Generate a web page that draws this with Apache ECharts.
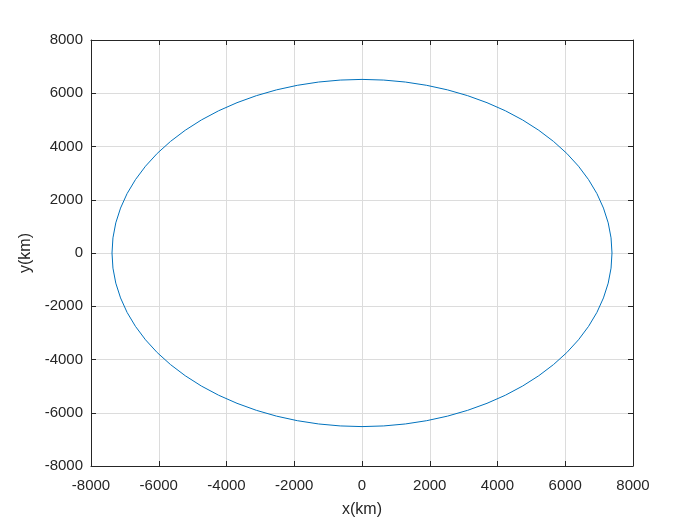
<!DOCTYPE html>
<html>
<head>
<meta charset="utf-8">
<script src="https://cdn.jsdelivr.net/npm/echarts@6/dist/echarts.min.js"></script>
<style>
  html, body { margin: 0; padding: 0; background: #fff; }
  #chart { width: 700px; height: 525px; }
</style>
</head>
<body>
<div id="chart"></div>
<script>
// orbit points (km), every 5 degrees
const orbitX = [7380, 7352, 7268, 7128, 6935, 6688, 6391, 6046, 5653, 5218, 4744, 4233, 3690, 3119, 2524, 1910, 1281, 643, 0,
  -643, -1281, -1910, -2524, -3119, -3690, -4233, -4744, -5218, -5653, -6046, -6391, -6688, -6935, -7128, -7268, -7352, -7380,
  -7352, -7268, -7128, -6935, -6688, -6391, -6046, -5653, -5218, -4744, -4233, -3690, -3119, -2524, -1910, -1281, -643, 0,
  643, 1281, 1910, 2524, 3119, 3690, 4233, 4744, 5218, 5653, 6046, 6391, 6688, 6935, 7128, 7268, 7352, 7380]
const orbitY = [0, 568, 1132, 1687, 2230, 2755, 3260, 3740, 4191, 4610, 4995, 5341, 5646, 5909, 6127, 6298, 6421, 6495, 6520,
  6495, 6421, 6298, 6127, 5909, 5646, 5341, 4995, 4610, 4191, 3740, 3260, 2755, 2230, 1687, 1132, 568, 0,
  -568, -1132, -1687, -2230, -2755, -3260, -3740, -4191, -4610, -4995, -5341, -5646, -5909, -6127, -6298, -6421, -6495, -6520,
  -6495, -6421, -6298, -6127, -5909, -5646, -5341, -4995, -4610, -4191, -3740, -3260, -2755, -2230, -1687, -1132, -568, 0]
const xTicks = [-8000, -6000, -4000, -2000, 0, 2000, 4000, 6000, 8000]
const yTicks = [-8000, -6000, -4000, -2000, 0, 2000, 4000, 6000, 8000]

const font = '"Liberation Sans", Arial, sans-serif'
const txt = '#262626'

let chart = echarts.init(document.getElementById('chart'))

const baseAxis = {
  type: 'value',
  min: xTicks[0],
  max: xTicks[xTicks.length - 1],
  interval: 2000,
  axisLine: { show: true, onZero: false, lineStyle: { color: txt, width: 1 } },
  axisTick: { show: true, inside: true, length: 5, lineStyle: { color: txt } },
  splitLine: { show: true, lineStyle: { color: '#dcdcdc', width: 1 } },
  axisLabel: { color: txt, fontFamily: font, fontSize: 15, margin: 12, formatter: v => String(v) },
  nameTextStyle: { color: txt, fontFamily: font, fontSize: 16 }
}

let option = {
  animation: false,
  grid: { left: 91, right: 67, top: 40, bottom: 59 },
  xAxis: [
    Object.assign({}, baseAxis, {
      position: 'bottom',
      name: 'x(km)', nameLocation: 'middle', nameGap: 36
    }),
    Object.assign({}, baseAxis, {
      position: 'top',
      axisLabel: { show: false },
      splitLine: { show: false }
    })
  ],
  yAxis: [
    Object.assign({}, baseAxis, {
      min: yTicks[0], max: yTicks[yTicks.length - 1],
      position: 'left',
      axisLabel: Object.assign({}, baseAxis.axisLabel, { margin: 8 }),
      name: 'y(km)', nameLocation: 'middle', nameGap: 51
    }),
    Object.assign({}, baseAxis, {
      min: yTicks[0], max: yTicks[yTicks.length - 1],
      position: 'right',
      axisLabel: { show: false },
      splitLine: { show: false }
    })
  ],
  series: [
    {
      type: 'line',
      data: orbitX.map((x, i) => [x, orbitY[i]]),
      showSymbol: false,
      smooth: false,
      lineStyle: { color: '#0072BD', width: 1 }
    }
  ]
}

chart.setOption(option)
</script>
</body>
</html>
